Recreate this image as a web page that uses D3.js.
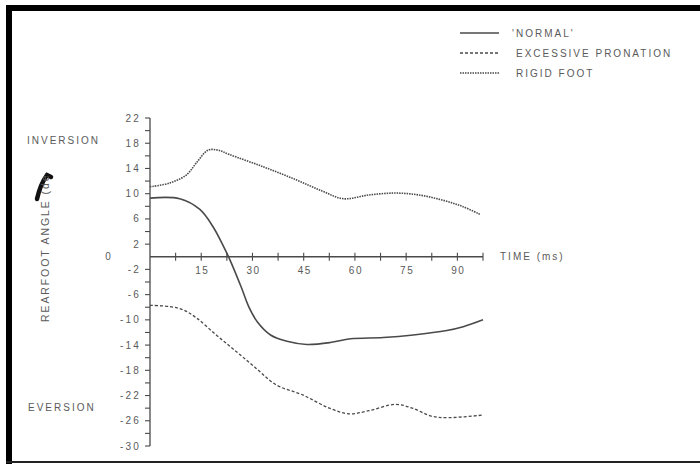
<!DOCTYPE html>
<html>
<head>
<meta charset="utf-8">
<script src="https://cdn.jsdelivr.net/npm/d3@7"></script>
<style>
  body { margin: 0; background: #fff; }
  text { font-family: "Liberation Sans", Arial, sans-serif; fill: #5a5a5a; }
</style>
</head>
<body>
<svg id="chart" width="700" height="464"></svg>
<script>
// time (ms) and rearfoot angle (deg)
const normalTime = [0, 8.7, 14.6, 18.4, 21.3, 23.5, 26.7, 28.9, 31.4, 35.3, 40.1, 45.9, 52.8, 58.7, 68.3, 77.1, 86.9, 91.7, 97.5];
const normalAngle = [9.3, 9.2, 7.5, 4.8, 1.9, -0.6, -4.8, -7.9, -10.3, -12.4, -13.4, -13.9, -13.6, -13.0, -12.8, -12.4, -11.7, -11.1, -10.0];

const pronationTime = [0, 5.8, 9.7, 13.6, 19.4, 25.2, 31.1, 36.9, 44.7, 52.5, 58.3, 64.1, 71.9, 76.8, 82.6, 87.5, 97.5];
const pronationAngle = [-7.7, -7.9, -8.4, -9.7, -12.4, -15.0, -17.7, -20.3, -21.9, -24.0, -24.9, -24.4, -23.4, -24.0, -25.3, -25.5, -25.1];

const rigidTime = [0, 5.8, 10.7, 13.6, 17.0, 19.9, 23.3, 33.0, 42.8, 50.5, 56.6, 64.1, 71.9, 78.7, 85.5, 91.4, 96.7];
const rigidAngle = [11.1, 11.7, 13.0, 14.9, 16.9, 16.9, 16.2, 14.3, 12.2, 10.4, 9.2, 9.8, 10.1, 9.8, 9.0, 8.0, 6.7];

const xTickLabels = [15, 30, 45, 60, 75, 90];
const xTickMarks = [7.5, 15, 22.5, 30, 37.5, 45, 52.5, 60, 67.5, 75, 82.5, 90, 97.5];
const yTickLabels = [22, 18, 14, 10, 6, 2, -2, -6, -10, -14, -18, -22, -26, -30];
const legendNames = ["'NORMAL'", "EXCESSIVE PRONATION", "RIGID FOOT"];

const svg = d3.select("#chart");
const lineColor = "#4a4a4a";

// frame
svg.append("rect").attr("x", 6).attr("y", 5).attr("width", 694).attr("height", 6).attr("fill", "#000");
svg.append("rect").attr("x", 6).attr("y", 5).attr("width", 6).attr("height", 459).attr("fill", "#000");
svg.append("rect").attr("x", 6).attr("y", 461).attr("width", 694).attr("height", 2).attr("fill", "#222");

const x = d3.scaleLinear().domain([0, 97.5]).range([150, 483]);
const y = d3.scaleLinear().domain([-30, 22]).range([446, 118]);

// y axis
const yAxis = svg.append("g");
yAxis.append("line").attr("x1", x(0)).attr("x2", x(0)).attr("y1", y(22)).attr("y2", y(-30))
  .attr("stroke", lineColor).attr("stroke-width", 1.3);
d3.range(-30, 23, 2).filter(v => v !== 0).forEach(v => {
  yAxis.append("line").attr("x1", x(0) - 5).attr("x2", x(0)).attr("y1", y(v)).attr("y2", y(v))
    .attr("stroke", lineColor).attr("stroke-width", 1.1);
});
yAxis.selectAll("text.yl").data(yTickLabels).join("text")
  .attr("x", x(0) - 9).attr("y", d => y(d) + 3.5)
  .attr("text-anchor", "end").attr("font-size", 10).attr("letter-spacing", 2.2)
  .text(d => d < 0 ? "-" + Math.abs(d) : d);
yAxis.append("text").attr("x", 108).attr("y", y(0) + 3.5).attr("text-anchor", "middle")
  .attr("font-size", 10).text("0");

// x axis
const xAxis = svg.append("g");
xAxis.append("line").attr("x1", x(0)).attr("x2", x(97.5)).attr("y1", y(0)).attr("y2", y(0))
  .attr("stroke", lineColor).attr("stroke-width", 1.3);
xAxis.selectAll("line.xt").data(xTickMarks).join("line")
  .attr("x1", d => x(d)).attr("x2", d => x(d)).attr("y1", y(0) - 4).attr("y2", y(0) + 4)
  .attr("stroke", lineColor).attr("stroke-width", 1.1);
xAxis.selectAll("text.xl").data(xTickLabels).join("text")
  .attr("x", d => x(d) + 1).attr("y", y(0) + 17)
  .attr("text-anchor", "middle").attr("font-size", 10).attr("letter-spacing", 1.5)
  .text(d => d);
xAxis.append("text").attr("x", 500).attr("y", y(0) + 3.5).attr("font-size", 10)
  .attr("letter-spacing", 2).text("TIME (ms)");

// side labels
svg.append("text").attr("x", 27).attr("y", 144).attr("font-size", 10).attr("letter-spacing", 2).text("INVERSION");
svg.append("text").attr("x", 28).attr("y", 411).attr("font-size", 10).attr("letter-spacing", 2).text("EVERSION");
// ink stroke near the end of the axis title (drawn under the text)
svg.append("path")
  .attr("d", "M37,199 C39,190 42,182 47,175 L51,177")
  .attr("fill", "none").attr("stroke", "#111").attr("stroke-width", 4.5).attr("stroke-linecap", "round");
svg.append("text").attr("transform", "translate(49,322) rotate(-90)")
  .attr("font-size", 10.5).attr("letter-spacing", 1.9).text("REARFOOT ANGLE (de");

// series
const line = d3.line().x(d => x(d[0])).y(d => y(d[1])).curve(d3.curveCatmullRom.alpha(0.5));
const series = [
  { t: normalTime, v: normalAngle, dash: null, w: 1.6 },
  { t: pronationTime, v: pronationAngle, dash: "3,2", w: 1.3 },
  { t: rigidTime, v: rigidAngle, dash: "1.5,1", w: 1.6 }
];
series.forEach(s => {
  svg.append("path").datum(d3.zip(s.t, s.v))
    .attr("fill", "none").attr("stroke", lineColor).attr("stroke-width", s.w)
    .attr("stroke-dasharray", s.dash).attr("d", line);
});

// legend
const legend = svg.append("g");
series.forEach((s, i) => {
  const ly = 33 + i * 20;
  legend.append("line").attr("x1", 460).attr("x2", 499).attr("y1", ly).attr("y2", ly)
    .attr("stroke", lineColor).attr("stroke-width", s.w).attr("stroke-dasharray", s.dash);
  legend.append("text").attr("x", i === 0 ? 512 : 516).attr("y", ly + 3.5)
    .attr("font-size", 10).attr("letter-spacing", 2).text(legendNames[i]);
});
</script>
</body>
</html>
